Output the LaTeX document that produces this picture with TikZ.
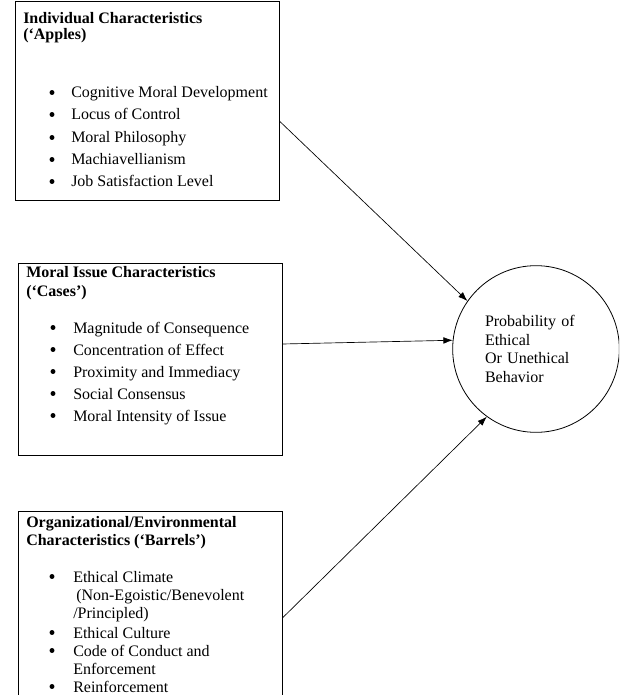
\documentclass[tikz,border=0pt]{standalone}
\usepackage{fontspec}
\setmainfont{Liberation Serif}
\usetikzlibrary{arrows.meta}

\tikzset{
  box/.style={draw, rectangle, line width=0.6pt, minimum width=198pt},
  head/.style={anchor=base west, inner sep=0pt, font=\fontsize{12}{13.8}\selectfont\bfseries},
  item/.style={anchor=base west, inner sep=0pt},
  dot/.style={circle, fill, inner sep=0pt, minimum size=3.7pt},
  link/.style={-{Latex[length=7pt,width=5pt]}, line width=0.5pt},
}

\begin{document}
\begin{tikzpicture}[x=0.75pt, y=-0.75pt, font=\fontsize{12}{13.8}\selectfont]
\clip (0,0) rectangle (619,695);

% the three boxes
\node[box, minimum height=149.25pt] (apples) at (147,100.5) {};
\node[box, minimum height=144pt] (cases) at (150,359) {};
\node[box, minimum height=150pt] (barrels) at (150,611) {};

% outcome
\node[draw, circle, line width=0.6pt, minimum size=125pt, text width=76.5pt, align=left]
    (behavior) at (536,349) {Probability of\\Ethical\\Or Unethical\\Behavior};

% headings
\node[head] (h1a) at (23,24) {Individual Characteristics};
\node[head] (h1b) at (23,39.5) {(‘Apples)};
\node[head] (h2a) at (26,277) {Moral Issue Characteristics};
\node[head] (h2b) at (26,296) {(‘Cases’)};
\node[head] (h3a) at (26,527) {Organizational/Environmental};
\node[head] (h3b) at (26,545) {Characteristics (‘Barrels’)};

% bullet lists
\foreach \t/\y [count=\i] in {
    Cognitive Moral Development/98, Locus of Control/120,
    Moral Philosophy/143, Machiavellianism/165,
    Job Satisfaction Level/187}
{
    \node[dot] (d1\i) at (52,\y-5.5) {};
    \node[item] (a\i) at (71,\y) {\t};
}

\foreach \t/\y [count=\i] in {
    Magnitude of Consequence/333, Concentration of Effect/355,
    Proximity and Immediacy/377, Social Consensus/399,
    Moral Intensity of Issue/421}
{
    \node[dot] (d2\i) at (53,\y-5.5) {};
    \node[item] (c\i) at (73,\y) {\t};
}

\foreach \y [count=\i] in {582, 638, 656, 692}
    \node[dot] (d3\i) at (52,\y-5.5) {};

\node[item] (b1) at (73,582) {Ethical Climate};
\node[item] (b2) at (76,600) {(Non-Egoistic/Benevolent};
\node[item] (b3) at (73,618) {/Principled)};
\node[item] (b4) at (73,638) {Ethical Culture};
\node[item] (b5) at (73,656) {Code of Conduct and};
\node[item] (b6) at (73,674) {Enforcement};
\node[item] (b7) at (73,692) {Reinforcement};

% arrows
\draw[link] ([yshift=-15.4pt]apples.east) -- (behavior.145);
\draw[link] ([yshift=11.25pt]cases.east) -- (behavior.174);
\draw[link] ([yshift=-5.25pt]barrels.east) -- (behavior.234);

\end{tikzpicture}
\end{document}
